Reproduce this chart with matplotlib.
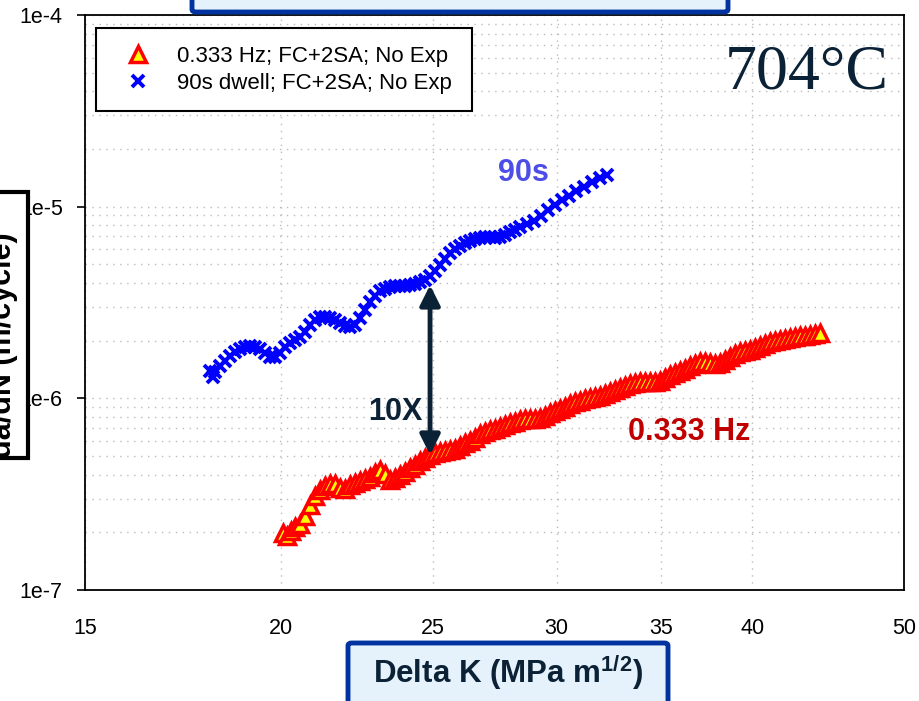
import matplotlib
matplotlib.use("Agg")
import matplotlib.pyplot as plt
import numpy as np
from matplotlib.patches import FancyBboxPatch, Rectangle
from matplotlib.ticker import NullLocator, NullFormatter, LogLocator

plt.rcParams['font.family'] = ['Liberation Sans', 'DejaVu Sans']
plt.rcParams['mathtext.fontset'] = 'custom'
plt.rcParams['mathtext.rm'] = 'Liberation Sans'
plt.rcParams['mathtext.bf'] = 'Liberation Sans:bold'

# Delta K (MPa m^1/2) and da/dN in micrometre/cycle
dk_90s = [18.03, 18.11, 18.16, 18.29, 18.43, 18.57, 18.70, 18.84, 18.98, 19.12,
          19.26, 19.40, 19.55, 19.69, 19.84, 19.98, 20.13, 20.28, 20.43, 20.58,
          20.73, 20.88, 21.04, 21.19, 21.35, 21.51, 21.66, 21.82, 21.99, 22.15,
          22.31, 22.48, 22.64, 22.81, 22.98, 23.15, 23.32, 23.49, 23.66, 23.84,
          24.01, 24.19, 24.37, 24.55, 24.73, 24.91, 25.10, 25.28, 25.47, 25.66,
          25.85, 26.04, 26.23, 26.43, 26.62, 26.82, 27.01, 27.21, 27.41, 27.62,
          27.82, 28.02, 28.23, 28.44,
          28.73, 29.03, 29.33, 29.64, 29.94, 30.25, 30.57, 30.88, 31.25, 31.62, 31.99, 32.32]
dadn_90s_um = [1.39, 1.29, 1.37, 1.48, 1.57, 1.66, 1.75, 1.81, 1.85, 1.88,
               1.85, 1.81, 1.73, 1.64, 1.64, 1.73, 1.85, 1.95, 2.02, 2.09,
               2.22, 2.42, 2.56, 2.66, 2.66, 2.63, 2.56, 2.47, 2.39, 2.36,
               2.42, 2.63, 2.89, 3.18, 3.42, 3.63, 3.72, 3.81, 3.86, 3.86,
               3.86, 3.90, 3.95, 4.05, 4.15, 4.35, 4.62, 4.97, 5.34, 5.73,
               6.02, 6.24, 6.47, 6.62, 6.78, 6.87, 6.95, 6.95, 6.87, 6.95,
               7.12, 7.38, 7.56, 7.83,
               8.13, 8.42, 8.95, 9.61, 10.21, 10.83, 11.37, 12.07, 12.67, 13.45, 14.12, 14.63]

dk_033 = [20.07, 20.19, 20.31, 20.43, 20.58, 20.73, 20.88, 21.04, 21.19, 21.35,
          21.51, 21.66, 21.82, 21.99, 22.15, 22.31, 22.48, 22.64, 22.81, 22.98,
          23.15, 23.32, 23.49, 23.66, 23.84, 24.01, 24.19, 24.37, 24.55, 24.73,
          24.91, 25.10, 25.28, 25.47, 25.66, 25.85, 26.04, 26.23, 26.43, 26.62,
          26.82, 27.01, 27.21, 27.41, 27.62, 27.82, 28.02, 28.23, 28.44, 28.65,
          28.86, 29.07, 29.29, 29.50, 29.72, 29.94, 30.16, 30.38, 30.61, 30.83,
          31.06, 31.29, 31.52, 31.76, 31.99, 32.23, 32.46, 32.71, 32.95, 33.19,
          33.44, 33.68, 33.93, 34.18, 34.43, 34.69, 34.94, 35.20, 35.46, 35.72,
          35.98, 36.25, 36.52, 36.79, 37.06, 37.33, 37.61, 37.88, 38.16, 38.45,
          38.73, 39.01, 39.30, 39.59, 39.88, 40.18, 40.47, 40.77, 41.08, 41.38,
          41.69, 41.99, 42.30, 42.61, 42.93, 43.25, 43.56, 43.89, 44.21]
dadn_033_um = [0.199, 0.192, 0.203, 0.213, 0.221, 0.244, 0.278, 0.310, 0.333, 0.349,
               0.358, 0.358, 0.341, 0.337, 0.353, 0.362, 0.371, 0.380, 0.389, 0.408,
               0.423, 0.403, 0.375, 0.384, 0.399, 0.413, 0.433, 0.449, 0.472, 0.489,
               0.507, 0.519, 0.525, 0.532, 0.538, 0.545, 0.565, 0.585, 0.600, 0.622,
               0.652, 0.668, 0.684, 0.692, 0.709, 0.726, 0.744, 0.753, 0.771, 0.781,
               0.781, 0.781, 0.790, 0.809, 0.839, 0.860, 0.880, 0.902, 0.935, 0.958,
               0.969, 0.993, 1.00, 1.02, 1.03, 1.05, 1.08, 1.11, 1.13, 1.16,
               1.19, 1.20, 1.22, 1.22, 1.22, 1.22, 1.23, 1.28, 1.32, 1.36,
               1.39, 1.42, 1.48, 1.51, 1.55, 1.55, 1.53, 1.51, 1.53, 1.59,
               1.64, 1.70, 1.75, 1.77, 1.79, 1.83, 1.88, 1.92, 1.97, 1.99,
               2.02, 2.04, 2.07, 2.09, 2.12, 2.12, 2.14, 2.17, 2.19]

labels = ['0.333 Hz; FC+2SA; No Exp', '90s dwell; FC+2SA; No Exp']
x_ticks = [15, 20, 25, 30, 35, 40, 50]
y_ticks = [1e-7, 1e-6, 1e-5, 1e-4]
y_ticklabels = ['1e-7', '1e-6', '1e-5', '1e-4']

# annotation spots (data coords)
arrow_x, arrow_top, arrow_bot = 24.91, 3.9e-6, 5.07e-7

navy = '#0B2236'

fig = plt.figure(figsize=(9.19, 7.01), dpi=100)
ax = fig.add_axes([0.0925, 0.1583, 0.8912, 0.8203])
ax.set_xscale('log')
ax.set_yscale('log')

ax.plot(dk_033, np.array(dadn_033_um) * 1e-6, ls='none', marker='^', ms=11,
        mfc='#FFFF00', mec='#FF0000', mew=2.5, label=labels[0], zorder=3)
ax.plot(dk_90s, np.array(dadn_90s_um) * 1e-6, ls='none', marker='x', ms=8.5,
        mec='#0000FF', mew=2.8, label=labels[1], zorder=3)

ax.set_xlim(15, 50)
ax.set_ylim(1e-7, 1e-4)
ax.set_xticks(x_ticks)
ax.set_xticklabels([str(v) for v in x_ticks])
ax.xaxis.set_minor_locator(NullLocator())
ax.set_yticks(y_ticks)
ax.set_yticklabels(y_ticklabels)
ax.yaxis.set_minor_locator(LogLocator(base=10, subs=range(2, 10)))
ax.yaxis.set_minor_formatter(NullFormatter())
ax.tick_params(axis='y', which='major', length=6, width=1.2, pad=10, labelsize=15.5)
ax.tick_params(axis='y', which='minor', length=0)
ax.tick_params(axis='x', which='major', length=0, pad=20, labelsize=15.5)
ax.grid(True, which='both', color='#BBBBBB', linestyle=(0, (1, 4)), linewidth=1)
for s in ax.spines.values():
    s.set_linewidth(1.3)
    s.set_color('black')

ax.annotate('', xy=(arrow_x, arrow_bot), xytext=(arrow_x, arrow_top),
            arrowprops=dict(arrowstyle='<|-|>', color=navy, lw=3.5,
                            mutation_scale=30, shrinkA=0, shrinkB=0), zorder=4)
ax.text(23.66, 8.49e-7, '10X', fontsize=22, fontweight='bold', color=navy,
        ha='center', va='center')
ax.text(28.56, 1.50e-5, '90s', fontsize=22, fontweight='bold', color='#4D4DE8',
        ha='center', va='center')
ax.text(36.46, 6.68e-7, '0.333 Hz', fontsize=22, fontweight='bold', color='#C00000',
        ha='center', va='center')
ax.text(43.31, 4.98e-5, '704°C', fontsize=46, family='Liberation Serif', color=navy,
        ha='center', va='center')

leg = ax.legend(loc='upper left', bbox_to_anchor=(0.0134, 0.977, 0.459, 0), mode='expand',
                fontsize=16, fancybox=False, framealpha=1, edgecolor='black',
                borderpad=0.8, handlelength=2.2, handletextpad=0.65, labelspacing=0.25,
                borderaxespad=0)
leg.get_frame().set_linewidth(1.5)

# boxes around the axis titles
top_box = FancyBboxPatch((192 / 919, 1 - 12 / 701), (728 - 192) / 919, 0.1,
                         boxstyle='round,pad=0,rounding_size=0.004', transform=fig.transFigure,
                         facecolor='#E5F1FB', edgecolor='#0033A0', lw=3.5, zorder=5)
fig.patches.append(top_box)

xl_box = FancyBboxPatch((348 / 919, -0.05), (668 - 348) / 919, 0.05 + 1 - 643 / 701,
                        boxstyle='round,pad=0,rounding_size=0.004', transform=fig.transFigure,
                        facecolor='#E5F1FB', edgecolor='#0033A0', lw=3.5, zorder=5)
fig.patches.append(xl_box)
fig.text(508 / 919, 0.040, r'Delta K (MPa m$^{\mathbf{1/2}}$)', fontsize=22.5,
         fontweight='bold', color=navy, ha='center', va='center', zorder=6)

yl_box = Rectangle((-0.02, 1 - 458 / 701), 0.02 + 28 / 919, (458 - 192) / 701,
                   transform=fig.transFigure, facecolor='white', edgecolor='black',
                   lw=3, zorder=5)
fig.patches.append(yl_box)
fig.text(11 / 919, 1 - 345 / 701, 'da/dN (m/cycle)', fontsize=22, fontweight='bold',
         color='black', rotation=90, rotation_mode='anchor', ha='center', va='baseline',
         zorder=6)

fig.savefig('out.png', dpi=100)
